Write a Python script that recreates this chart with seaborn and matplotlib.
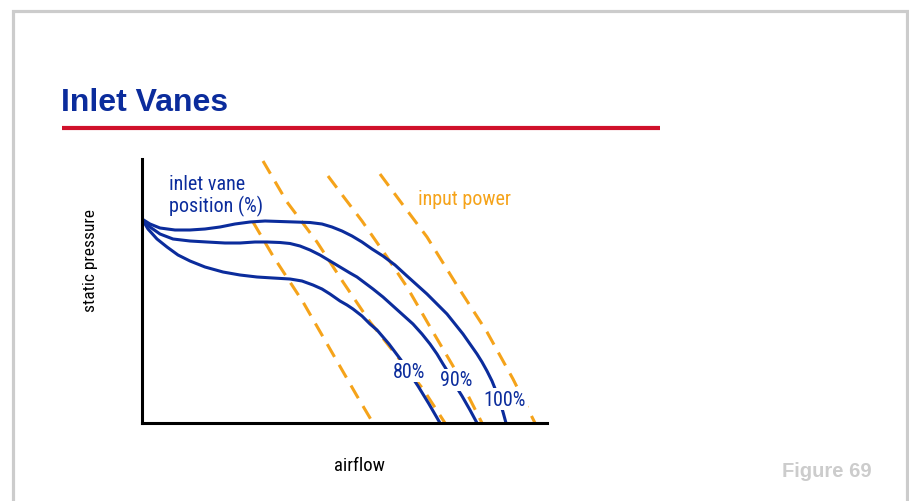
import numpy as np
import pandas as pd
import matplotlib
matplotlib.use("Agg")
import matplotlib.pyplot as plt
from matplotlib.lines import Line2D
import seaborn as sns

# ---------------- data (arbitrary units: airflow vs static pressure) ----------------
vane_labels = ["100%", "90%", "80%"]

x_100 = [0, 8, 18, 33, 48, 63, 78, 93, 108, 123, 138, 153, 168, 180, 190, 200, 210, 220,
         230, 241, 253, 265, 275, 285, 295, 305, 313, 321, 328, 335, 340, 345, 350, 354,
         358, 361, 364]
y_100 = [204, 199, 195, 193, 193, 194, 196, 199, 201, 202, 201.5, 201, 200.5, 199, 196,
         192, 187, 181, 174, 167, 158, 147, 138, 129, 119, 109, 99, 89, 79, 69, 61, 52,
         42, 32, 21, 11, 0]

x_90 = [0, 8, 18, 31, 48, 65, 83, 98, 113, 125, 138, 148, 158, 168, 178, 188, 198, 208,
        215, 223, 231, 241, 251, 261, 271, 280, 288, 295, 301, 306, 310, 315, 320, 328, 335]
y_90 = [204, 196, 189, 184, 182, 181, 180, 180, 181, 181, 180.5, 179.5, 177, 173, 168,
        162, 156, 150, 146, 140, 134, 126, 117, 108, 99, 89, 79, 69, 59, 51, 43, 35, 27,
        13, 0]

x_80 = [0, 6, 15, 25, 36, 48, 63, 81, 98, 115, 131, 148, 160, 171, 180, 188, 198, 205,
        211, 220, 228, 235, 241, 247, 253, 259, 264, 270, 276, 287, 298]
y_80 = [204, 194, 184, 176, 168, 162, 156, 151, 148, 146, 145, 144, 142, 138, 134, 129,
        122, 118, 114, 107, 99, 93, 86, 79, 71, 63, 54, 46, 37, 19, 0]

# input power (dashed) lines
pw_a_x = [111, 131, 161, 188, 215, 231]
pw_a_y = [201, 167, 121, 74, 27, 0]
pw_b_x = [121, 145, 175, 201, 228, 255, 281, 303]
pw_b_y = [262, 221, 181, 141, 101, 67, 34, 0]
pw_c_x = [186, 201, 220, 245, 265, 291, 311, 340]
pw_c_y = [247, 227, 202, 166, 136, 91, 57, 0]
pw_d_x = [238, 258, 285, 316, 345, 371, 393]
pw_d_y = [249, 222, 186, 136, 91, 44, 0]

# label anchor positions (data coords) for vane curves
label_x = [363, 314, 267]
label_y = [24, 43, 52]

# ---------------- styling ----------------
W, H = 909, 502
BLUE = "#0b2c9c"
ORANGE = "#f5a31a"
RED = "#d0112b"
GRAY = "#cccccc"
NARROW = ["Roboto Condensed", "Archivo Narrow", "Liberation Sans Narrow", "Roboto",
          "DejaVu Sans"]

sns.set_theme(style="white")
plt.rcParams["font.family"] = NARROW

fig = plt.figure(figsize=(W / 100, H / 100), dpi=100)
fig.patch.set_facecolor("white")

def fx(px):
    return px / W

def fy(py):
    return 1 - py / H

# axes placed to match reference pixel box
ax = fig.add_axes([fx(142), fy(424), fx(547) - fx(142), fy(160) - fy(424)])
ax.set_facecolor("none")

# dashed power lines
for xs, ys in [(pw_a_x, pw_a_y), (pw_b_x, pw_b_y), (pw_c_x, pw_c_y), (pw_d_x, pw_d_y)]:
    sns.lineplot(x=xs, y=ys, sort=False, estimator=None, color=ORANGE, lw=2.2, ax=ax)
    ax.lines[-1].set_dashes((4.8, 3))
    ax.lines[-1].set_dash_capstyle("butt")

# vane curves
for xs, ys in [(x_100, y_100), (x_90, y_90), (x_80, y_80)]:
    sns.lineplot(x=xs, y=ys, sort=False, estimator=None, color=BLUE, lw=2.2, ax=ax)
    ax.lines[-1].set_solid_joinstyle("round")

ax.set_xlim(0, 405)
ax.set_ylim(0, 264)
ax.set_xticks([])
ax.set_yticks([])
ax.set_xlabel("")
ax.set_ylabel("")
for s in ["top", "right"]:
    ax.spines[s].set_visible(False)
for s in ["left", "bottom"]:
    ax.spines[s].set_color("black")
    ax.spines[s].set_linewidth(2.2)
    ax.spines[s].set_zorder(5)

for lab, lx, ly in zip(vane_labels, label_x, label_y):
    ax.text(lx, ly, lab, ha="center", va="center", fontsize=14.5, color=BLUE,
            bbox=dict(facecolor="white", edgecolor="none", pad=1.0), zorder=6)

ax.text(27, 249, "inlet vane\nposition (%)", ha="left", va="top", fontsize=14.5,
        color=BLUE, linespacing=1.1, zorder=6)
ax.text(276, 219, "input power", ha="left", va="baseline", fontsize=14.5,
        color=ORANGE, zorder=6)

# axis labels
fig.text(fx(91), fy(261), "static pressure", rotation=90, ha="center", va="center",
         fontsize=12.5, color="black")
fig.text(fx(359), fy(471), "airflow", ha="center", va="baseline", fontsize=13.5,
         color="black")

# title and red rule
fig.text(fx(61), fy(111), "Inlet Vanes", ha="left", va="baseline", fontsize=23,
         fontweight="bold", color=BLUE, family=["Liberation Sans", "DejaVu Sans"])
fig.add_artist(Line2D([fx(62), fx(660)], [fy(129), fy(129)], color=RED, lw=3,
                      transform=fig.transFigure, solid_capstyle="butt"))

# frame border (left, top, right)
fig.add_artist(Line2D([fx(12.5), fx(12.5), fx(906.5), fx(906.5)],
                      [fy(H + 2), fy(11.5), fy(11.5), fy(H + 2)],
                      color=GRAY, lw=2.3, transform=fig.transFigure,
                      solid_joinstyle="miter"))

fig.text(fx(782), fy(477), "Figure 69", ha="left", va="baseline", fontsize=14.5,
         fontweight="bold", color=GRAY, family=["Liberation Sans", "DejaVu Sans"])

fig.savefig("out.png", dpi=100, facecolor="white")
